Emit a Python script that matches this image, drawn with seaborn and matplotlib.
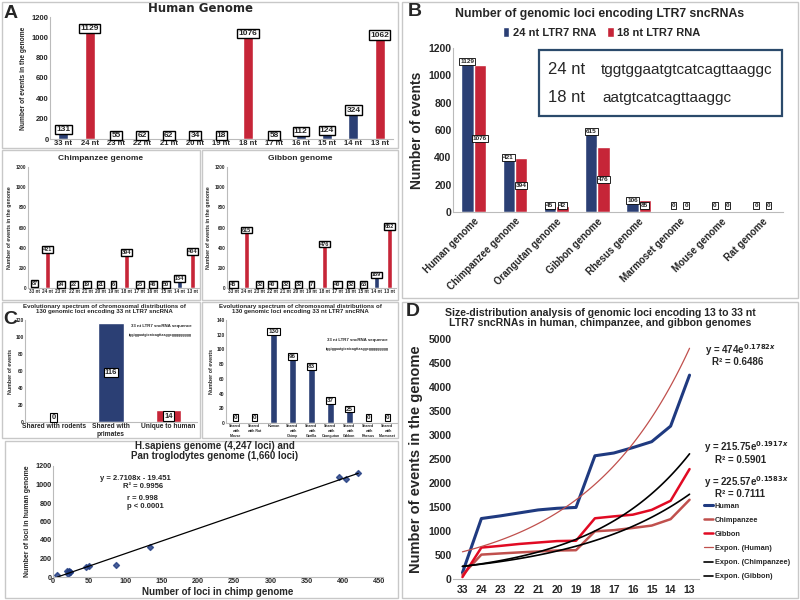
import numpy as np
import pandas as pd
import matplotlib
matplotlib.use("Agg")
import matplotlib.pyplot as plt
import seaborn as sns
from matplotlib.patches import Rectangle

sns.set_style("white")
plt.rcParams['font.family'] = ['Liberation Sans', 'DejaVu Sans']
plt.rcParams['font.weight'] = 'bold'
plt.rcParams['axes.labelweight'] = 'bold'

NAVY = "#1f3a80"
RED = "#e10a23"
BROWN = "#c0504d"

# ---- data ----
nt_labels = ["33 nt", "24 nt", "23 nt", "22 nt", "21 nt", "20 nt", "19 nt",
             "18 nt", "17 nt", "16 nt", "15 nt", "14 nt", "13 nt"]
human_counts = [131, 1129, 55, 62, 62, 34, 18, 1076, 58, 112, 124, 324, 1062]
chimp_counts = [87, 421, 24, 22, 19, 21, 6, 394, 23, 46, 50, 134, 404]
gibbon_counts = [45, 615, 32, 40, 32, 32, 7, 476, 40, 32, 63, 169, 652]
bar_colors = [NAVY, RED, NAVY, NAVY, NAVY, NAVY, NAVY, RED, NAVY, NAVY, NAVY, NAVY, RED]

genomes = ["Human genome", "Chimpanzee genome", "Orangutan genome", "Gibbon genome",
           "Rhesus genome", "Marmoset genome", "Mouse genome", "Rat genome"]
loci_24 = [1129, 421, 45, 615, 106, 0, 0, 0]
loci_18 = [1076, 394, 42, 476, 85, 0, 0, 0]

c1_cats = ["Shared with rodents", "Shared with\nprimates", "Unique to human"]
c1_vals = [0, 116, 14]
c1_colors = [NAVY, NAVY, RED]
c2_cats = ["Shared\nwith\nMouse", "Shared\nwith Rat", "Human", "Shared\nwith\nChimp",
           "Shared\nwith\nGorilla", "Shared\nwith\nOrangutan", "Shared\nwith\nGibbon",
           "Shared\nwith\nRhesus", "Shared\nwith\nMarmoset"]
c2_vals = [0, 0, 130, 96, 83, 37, 25, 0, 0]

d_ticks = ["33", "24", "23", "22", "21", "20", "19", "18", "17", "16", "15", "14", "13"]
d_pos = [1, 2, 3, 4, 5, 6, 7, 8, 9, 10, 11, 12, 13]
human_cum = [131, 1260, 1315, 1377, 1439, 1473, 1491, 2567, 2625, 2737, 2861, 3185, 4247]
chimp_cum = [87, 508, 532, 554, 573, 594, 600, 994, 1017, 1063, 1113, 1247, 1651]
gibbon_cum = [40, 655, 690, 730, 760, 790, 797, 1265, 1305, 1340, 1440, 1630, 2290]
fit_human = (474, 0.1782)
fit_chimp = (225.57, 0.1583)
fit_gibbon = (215.75, 0.1917)

fig = plt.figure(figsize=(8, 6), dpi=100)


def px_axes(l, t, r, b):
    return fig.add_axes([l / 800, 1 - b / 600, (r - l) / 800, (b - t) / 600])


def ftext(x, y, s, **kw):
    fig.text(x / 800, 1 - y / 600, s, **kw)


def box(l, t, r, b):
    fig.add_artist(Rectangle((l / 800, 1 - b / 600), (r - l) / 800, (b - t) / 600,
                             transform=fig.transFigure, fill=False, ec="#c8c8c8", lw=1))


def style_ax(ax, fs):
    for s in ["top", "right"]:
        ax.spines[s].set_visible(False)
    ax.spines["left"].set_color("#bbbbbb")
    ax.spines["bottom"].set_color("#bbbbbb")
    ax.tick_params(labelsize=fs, length=0, pad=1)
    ax.set_xlabel("")


def label_box(ax, x, y, s, fs, lw=0.8):
    ax.text(x, y, s, ha="center", va="center", fontsize=fs, fontweight="bold",
            bbox=dict(boxstyle="square,pad=0.15", fc="white", ec="black", lw=lw))


# panel frames
box(2, 2, 398, 148)
box(2, 150, 200, 300)
box(202, 150, 398, 300)
box(2, 302, 200, 438)
box(202, 302, 398, 438)
box(5, 441, 398, 598)
box(402, 2, 798, 298)
box(402, 302, 798, 598)


def genome_panel(ax, counts, fs_tick, fs_ylab, fs_lab, width, off, lw):
    sns.barplot(x=nt_labels, y=counts, hue=nt_labels, palette=bar_colors,
                width=width, legend=False, ax=ax)
    ax.set_ylim(0, 1200)
    ax.set_yticks(range(0, 1201, 200))
    style_ax(ax, fs_tick)
    ax.set_ylabel("Number of events in the genome", fontsize=fs_ylab, labelpad=3)
    for i, v in enumerate(counts):
        label_box(ax, i, max(v - off, off * 0.8), str(v), fs_lab, lw)


# ---- A: human ----
axA = px_axes(50, 17, 393, 139)
genome_panel(axA, human_counts, 5.5, 4.8, 6, 0.38, 40, 1.0)
ftext(200, 9, "Human Genome", ha="center", va="center", fontsize=8.5,
      fontweight="heavy", family="DejaVu Sans")
ftext(4, 14, "A", ha="left", va="center", fontsize=14, fontweight="bold")

axCh = px_axes(28, 167, 199, 288)
genome_panel(axCh, chimp_counts, 3.3, 3.8, 4, 0.4, 40, 1.0)
ftext(101, 158, "Chimpanzee genome", ha="center", va="center", fontsize=6, fontweight="bold")

axGb = px_axes(227, 167, 396, 288)
genome_panel(axGb, gibbon_counts, 3.3, 3.8, 4, 0.4, 40, 1.0)
ftext(300, 158, "Gibbon genome", ha="center", va="center", fontsize=6, fontweight="bold")

# ---- C ----
ctitle = "Evolutionary spectrum of chromosomal distributions of\n130 genomic loci encoding 33 nt LTR7 sncRNA"
axC1 = px_axes(25, 320, 197, 422)
sns.barplot(x=c1_cats, y=c1_vals, hue=c1_cats, palette=c1_colors, width=0.44,
            legend=False, ax=axC1)
axC1.set_ylim(0, 120)
axC1.set_yticks(range(0, 121, 20))
style_ax(axC1, 3.5)
axC1.tick_params(axis="x", labelsize=4.8)
axC1.set_ylabel("Number of events", fontsize=3.8, labelpad=2)
for i, v in enumerate(c1_vals):
    label_box(axC1, i, max(v / 2, 5), str(v), 5.5)
axC1.text(0.79, 0.93, "33 nt LTR7 sncRNA sequence", transform=axC1.transAxes,
          ha="center", fontsize=3.2)
axC1.text(0.79, 0.84, "tggtggaatgtcatcagttaaggcggggggggg", transform=axC1.transAxes,
          ha="center", fontsize=2.6)
ftext(104, 309, ctitle, ha="center", va="center", fontsize=4.4, fontweight="bold",
      linespacing=1.1)
ftext(3, 319, "C", ha="left", va="center", fontsize=14, fontweight="bold")

axC2 = px_axes(226, 320, 397, 423)
sns.barplot(x=c2_cats, y=c2_vals, color=NAVY, width=0.42, ax=axC2)
axC2.set_ylim(0, 140)
axC2.set_yticks(range(0, 141, 20))
style_ax(axC2, 3.5)
axC2.tick_params(axis="x", labelsize=2.6)
axC2.set_ylabel("Number of events", fontsize=3.8, labelpad=2)
for i, v in enumerate(c2_vals):
    label_box(axC2, i, max(v - 6, 8), str(v), 4.5)
axC2.text(0.77, 0.80, "33 nt LTR7 sncRNA sequence", transform=axC2.transAxes,
          ha="center", fontsize=3.2)
axC2.text(0.77, 0.71, "tggtggaatgtcatcagttaaggcggggggggg", transform=axC2.transAxes,
          ha="center", fontsize=2.6)
ftext(300, 309, ctitle, ha="center", va="center", fontsize=4.4, fontweight="bold",
      linespacing=1.1)

# ---- scatter ----
axS = px_axes(53, 466, 383, 577)
sns.regplot(x=chimp_counts, y=human_counts, ci=None, truncate=True, ax=axS,
            marker="D", scatter_kws=dict(s=9, color=NAVY),
            line_kws=dict(color="black", lw=0.9))
axS.set_xlim(0, 455)
axS.set_ylim(0, 1200)
axS.set_xticks(range(0, 451, 50))
axS.set_yticks(range(0, 1201, 200))
style_ax(axS, 5.2)
axS.set_xlabel("Number of loci in chimp genome", fontsize=7, labelpad=1)
axS.set_ylabel("Number of loci in human genome", fontsize=5, labelpad=3)
ftext(215, 451, "H.sapiens genome (4,247 loci) and\nPan troglodytes genome (1,660 loci)",
      ha="center", va="center", fontsize=7, fontweight="bold", linespacing=1.0)
ftext(100, 479, "y = 2.7108x - 19.451", ha="left", va="center", fontsize=5.5)
ftext(123, 487, "R\u00b2 = 0.9956", ha="left", va="center", fontsize=5.5)
ftext(127, 499, "r = 0.998", ha="left", va="center", fontsize=5.5)
ftext(127, 507, "p < 0.0001", ha="left", va="center", fontsize=5.5)

# ---- B ----
dfB = pd.DataFrame({
    "genome": genomes * 2,
    "count": loci_24 + loci_18,
    "rna": ["24 nt LTR7 RNA"] * len(genomes) + ["18 nt LTR7 RNA"] * len(genomes),
})
axB = px_axes(453, 48, 783, 212)
sns.barplot(data=dfB, x="genome", y="count", hue="rna", palette=[NAVY, RED],
            width=0.6, ax=axB)
axB.set_ylim(0, 1200)
axB.set_yticks(range(0, 1201, 200))
style_ax(axB, 7.5)
axB.set_ylabel("Number of events", fontsize=10, labelpad=3)
axB.set_xticks(range(len(genomes)))
axB.set_xticklabels(genomes, rotation=45, ha="right", rotation_mode="anchor", fontsize=7)
axB.tick_params(axis="x", pad=3)
for bar, v in zip(axB.containers[0], loci_24):
    label_box(axB, bar.get_x() + bar.get_width() / 2, max(v - 25, 45), str(v), 4.6, 0.6)
for bar, v in zip(axB.containers[1], loci_18):
    label_box(axB, bar.get_x() + bar.get_width() / 2, max(v / 2, 45), str(v), 4.6, 0.6)
axB.legend(loc="lower center", bbox_to_anchor=(0.45, 1.0), ncol=2, frameon=False,
           fontsize=8, handlelength=0.6, handleheight=1.0, handletextpad=0.3,
           columnspacing=1.0)
ftext(600, 14, "Number of genomic loci encoding LTR7 sncRNAs", ha="center", va="center",
      fontsize=8.8, fontweight="bold")
ftext(408, 12, "B", ha="left", va="center", fontsize=14, fontweight="bold")
fig.add_artist(Rectangle((539 / 800, 1 - 116 / 600), 243 / 800, 66 / 600,
                         transform=fig.transFigure, fill=False, ec="#2b4a6b", lw=1.6))
ftext(548, 70, "24 nt", ha="left", va="center", fontsize=12, fontweight="normal")
ftext(601, 70, "tggtggaatgtcatcagttaaggc", ha="left", va="center", fontsize=11,
      fontweight="normal")
ftext(548, 98, "18 nt", ha="left", va="center", fontsize=12, fontweight="normal")
ftext(602, 98, "aatgtcatcagttaaggc", ha="left", va="center", fontsize=11,
      fontweight="normal")

# ---- D ----
axD = px_axes(453, 339, 699, 579)
sns.lineplot(x=d_pos, y=human_cum, color=NAVY, lw=2.2, ax=axD, label="Human")
sns.lineplot(x=d_pos, y=chimp_cum, color=BROWN, lw=1.8, ax=axD, label="Chimpanzee")
sns.lineplot(x=d_pos, y=gibbon_cum, color=RED, lw=1.8, ax=axD, label="Gibbon")
xs = np.linspace(1, 13, 120)
axD.plot(xs, fit_human[0] * np.exp(fit_human[1] * xs), color=BROWN, lw=0.9,
         label="Expon. (Human)")
axD.plot(xs, fit_chimp[0] * np.exp(fit_chimp[1] * xs), color="black", lw=1.2,
         label="Expon. (Chimpanzee)")
axD.plot(xs, fit_gibbon[0] * np.exp(fit_gibbon[1] * xs), color="black", lw=1.2,
         label="Expon. (Gibbon)")
axD.set_xlim(0.5, 13.5)
axD.set_ylim(0, 5000)
axD.set_yticks(range(0, 5001, 500))
axD.set_xticks(d_pos)
axD.set_xticklabels(d_ticks)
style_ax(axD, 7.5)
axD.spines["left"].set_visible(False)
axD.tick_params(axis="x", length=3, color="#bbbbbb")
axD.set_ylabel("Number of events in the genome", fontsize=10.5, labelpad=4)
axD.legend(loc="upper left", bbox_to_anchor=(703 / 800, 1 - 501 / 600),
           bbox_transform=fig.transFigure, frameon=False,
           handlelength=1.2, handletextpad=0.2, labelspacing=0.95, borderpad=0.2,
           borderaxespad=0, prop=dict(size=5.3, weight="bold"))
ftext(600, 318, "Size-distribution analysis of genomic loci encoding 13 to 33 nt\n"
      "LTR7 sncRNAs in human, chimpanzee, and gibbon genomes",
      ha="center", va="center", fontsize=7.6, fontweight="bold", linespacing=1.1)
ftext(406, 311, "D", ha="left", va="center", fontsize=14, fontweight="bold")
ftext(705, 350, "y = 474e$^{0.1782x}$", ha="left", va="center", fontsize=7)
ftext(712, 362, "R\u00b2 = 0.6486", ha="left", va="center", fontsize=7)
ftext(704, 447, "y = 215.75e$^{0.1917x}$", ha="left", va="center", fontsize=7)
ftext(715, 460, "R\u00b2 = 0.5901", ha="left", va="center", fontsize=7)
ftext(704, 482, "y = 225.57e$^{0.1583x}$", ha="left", va="center", fontsize=7)
ftext(715, 494, "R\u00b2 = 0.7111", ha="left", va="center", fontsize=7)

fig.savefig("out.png", dpi=100)
